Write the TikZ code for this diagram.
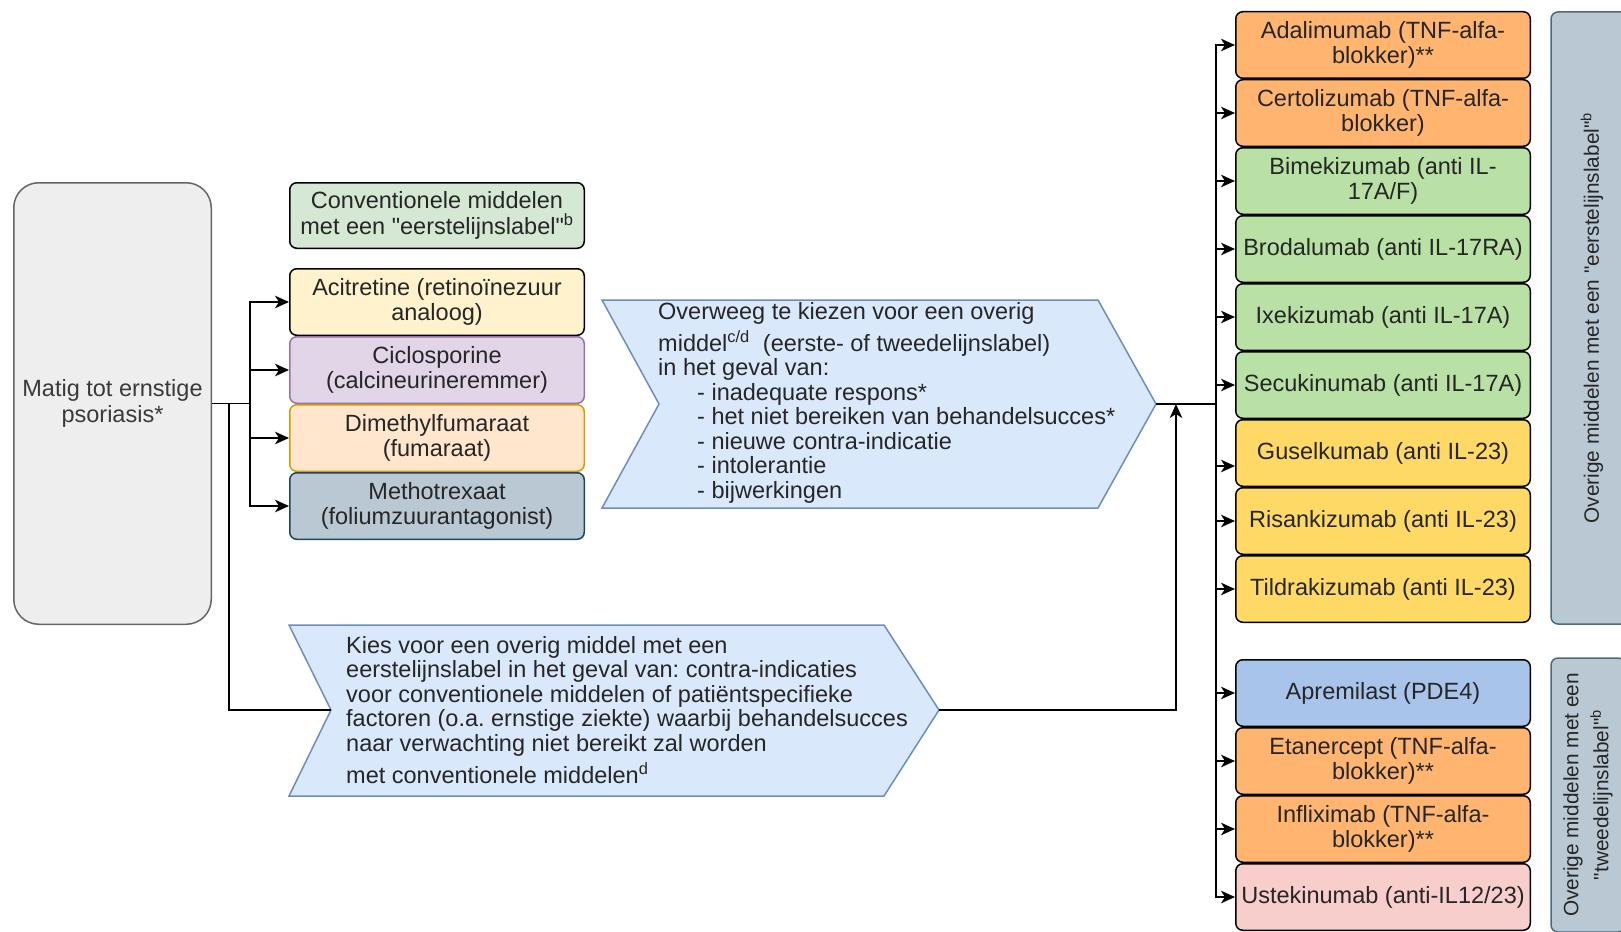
\documentclass[tikz,border=0pt]{standalone}
\usepackage{fontspec}
\setmainfont{Liberation Sans}[Ligatures=TeXOff]
\usetikzlibrary{positioning,arrows.meta}
\definecolor{txt}{HTML}{262626}
\definecolor{psortxt}{HTML}{3A3A3A}
\definecolor{psorfill}{HTML}{EEEEEE}
\definecolor{psordraw}{HTML}{666666}
\definecolor{convfill}{HTML}{D5E8D4}
\definecolor{acifill}{HTML}{FFF2CC}
\definecolor{cicfill}{HTML}{E1D5E7}
\definecolor{cicdraw}{HTML}{9673A6}
\definecolor{dmffill}{HTML}{FFE6CC}
\definecolor{dmfdraw}{HTML}{D79B00}
\definecolor{mtxfill}{HTML}{BAC8D3}
\definecolor{mtxdraw}{HTML}{23445D}
\definecolor{grpdraw}{HTML}{4A6A82}
\definecolor{stepfill}{HTML}{DAE8FC}
\definecolor{stepdraw}{HTML}{6C8EBF}
\definecolor{tnffill}{HTML}{FFB570}
\definecolor{ilfill}{HTML}{B9E0A5}
\definecolor{ilxfill}{HTML}{FFD966}
\definecolor{pdefill}{HTML}{A9C4EB}
\definecolor{ustefill}{HTML}{F8CECC}
\frenchspacing

\begin{document}
\begin{tikzpicture}[x=1pt,y=-1pt,font=\fontsize{23.5}{25.8}\selectfont]
	\tikzset{every node/.style={inner sep=0pt,text=txt}}
	\tikzset{drug/.style={draw=black,line width=1.5pt,rounded corners=7pt,minimum width=294.5pt,minimum height=66.5pt,align=center}}
	\tikzset{groupbox/.style={fill=mtxfill,draw=grpdraw,line width=1.5pt,rounded corners=7pt,rotate=90,align=center,font=\fontsize{20.8}{30}\selectfont}}
	\tikzset{stepbox/.style={fill=stepfill,draw=stepdraw,line width=1.5pt}}
	\tikzset{steptext/.style={anchor=west,align=left,font=\fontsize{23.5}{24.5}\selectfont}}
	\tikzset{wire/.style={line width=1.6pt}}
	\tikzset{arr/.style={wire,-{Stealth[length=14pt,width=12.5pt,inset=4pt]}}}
	\path[use as bounding box,clip] (0,0) rectangle (1621,931);

	\node[drug,fill=psorfill,draw=psordraw,text=psortxt,rounded corners=25pt,minimum width=197.5pt,minimum height=441.5pt] (psor) at (112.5,403.5) {Matig tot ernstige\\psoriasis*};

	\node[drug,fill=convfill,minimum height=65.5pt] (conv) at (437,215.5) {Conventionele middelen\\met een "eerstelijnslabel"\textsuperscript{b}};
	\node[drug,fill=acifill] (aci) at (437,302) {Acitretine (retinoïnezuur\\analoog)};
	\node[drug,fill=cicfill,draw=cicdraw,below=0pt of aci] (cic) {Ciclosporine\\(calcineurineremmer)};
	\node[drug,fill=dmffill,draw=dmfdraw,below=0pt of cic] (dmf) {Dimethylfumaraat\\(fumaraat)};
	\node[drug,fill=mtxfill,draw=mtxdraw,below=0pt of dmf] (mtx) {Methotrexaat\\(foliumzuurantagonist)};

	\coordinate (ovtip) at (1156,404);
	\coordinate (ovnotch) at (659,404);
	\filldraw[stepbox] (602,300) -- (1098,300) -- (ovtip) -- (1098,508) -- (602,508) -- (ovnotch) -- cycle;
	\node[steptext] (ovtext) at (658,403) {Overweeg te kiezen voor een overig\\[5pt]
		middel\textsuperscript{c/d}\ \ (eerste- of tweedelijnslabel)\\
		in het geval van:\\
		\hspace*{39pt}- inadequate respons*\\
		\hspace*{39pt}- het niet bereiken van behandelsucces*\\
		\hspace*{39pt}- nieuwe contra-indicatie\\
		\hspace*{39pt}- intolerantie\\
		\hspace*{39pt}- bijwerkingen};

	\coordinate (kiestip) at (939,710);
	\coordinate (kiesnotch) at (331,710);
	\filldraw[stepbox] (289,625) -- (884,625) -- (kiestip) -- (884,796) -- (289,796) -- (kiesnotch) -- cycle;
	\node[steptext] (kiestext) at (346,710) {Kies voor een overig middel met een\\
		eerstelijnslabel in het geval van: contra-indicaties\\
		voor conventionele middelen of patiëntspecifieke\\
		factoren (o.a. ernstige ziekte) waarbij behandelsucces\\
		naar verwachting niet bereikt zal worden\\[5pt]
		met conventionele middelen\textsuperscript{d}};

	\node[drug,fill=tnffill] (ada) at (1383,45) {Adalimumab (TNF-alfa-\\blokker)**};
	\node[drug,fill=tnffill,below=0pt of ada] (cert) {Certolizumab (TNF-alfa-\\blokker)};
	\node[drug,fill=ilfill,below=0pt of cert] (bime) {Bimekizumab (anti IL-\\17A/F)};
	\node[drug,fill=ilfill,below=0pt of bime] (brod) {Brodalumab (anti IL-17RA)};
	\node[drug,fill=ilfill,below=0pt of brod] (ixe) {Ixekizumab (anti IL-17A)};
	\node[drug,fill=ilfill,below=0pt of ixe] (secu) {Secukinumab (anti IL-17A)};
	\node[drug,fill=ilxfill,below=0pt of secu] (gus) {Guselkumab (anti IL-23)};
	\node[drug,fill=ilxfill,below=0pt of gus] (risa) {Risankizumab (anti IL-23)};
	\node[drug,fill=ilxfill,below=0pt of risa] (tild) {Tildrakizumab (anti IL-23)};

	\node[drug,fill=pdefill] (apre) at (1383,693) {Apremilast (PDE4)};
	\node[drug,fill=tnffill,below=0pt of apre] (etan) {Etanercept (TNF-alfa-\\blokker)**};
	\node[drug,fill=tnffill,below=0pt of etan] (infl) {Infliximab (TNF-alfa-\\blokker)**};
	\node[drug,fill=ustefill,below=0pt of infl] (uste) {Ustekinumab (anti-IL12/23)};

	\node[groupbox,minimum width=612pt,minimum height=82pt] (first) at (1592,318) {Overige middelen met een "eerstelijnslabel"\textsuperscript{b}};
	\node[groupbox,minimum width=274pt,minimum height=74pt] (second) at (1588,795) {Overige middelen met een\\"tweedelijnslabel"\textsuperscript{b}};

	\foreach \n in {aci,cic,dmf,mtx}
		\draw[arr] (psor.east) -- ++(38,0) |- (\n.west);
	\draw[wire] (psor.east) -- ++(17,0) |- (kiesnotch);

	\coordinate (bus) at (1216,404);
	\coordinate (join) at (1176,404);
	\draw[wire] (ovtip) -- (bus);
	\draw[arr] (kiestip) -| (join);
	\foreach \n in {ada,cert,bime,brod,ixe,secu,risa,tild,apre,etan,infl,uste}
		\draw[arr] (bus) |- (\n.west);
	\draw[arr] (bus) |- ([yshift=-13pt]gus.west);
\end{tikzpicture}
\end{document}
